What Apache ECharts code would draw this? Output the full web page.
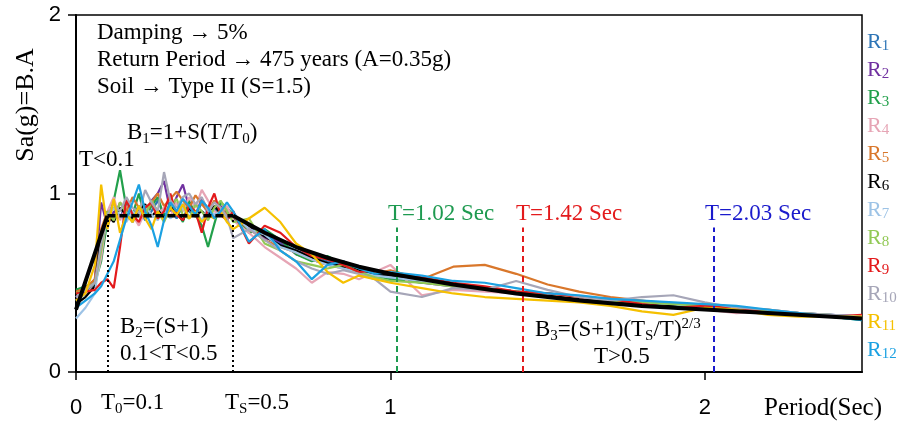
<!DOCTYPE html>
<html>
<head>
<meta charset="utf-8">
<script src="https://cdn.jsdelivr.net/npm/echarts@6/dist/echarts.min.js"></script>
<style>html,body{margin:0;background:#fff}#chart{width:898px;height:423px}</style>
</head>
<body>
<div id="chart"></div>
<script>
// periods (sec) shared by all records
const periods = [0,0.03,0.06,0.08,0.1,0.12,0.14,0.16,0.18,0.2,0.22,0.24,0.26,0.28,0.3,0.32,0.34,0.36,0.38,0.4,0.42,0.44,0.46,0.48,0.5,
  0.55,0.6,0.65,0.7,0.75,0.8,0.85,0.9,0.95,1.0,
  1.1,1.2,1.3,1.4,1.5,1.6,1.7,1.8,1.9,2.0,2.1,2.2,2.3,2.4,2.5];

const R1 = [0.40,0.44,0.50,0.70,0.88,0.92,0.86,0.95,0.88,0.93,0.85,0.90,0.96,0.88,0.92,0.86,0.94,0.90,0.87,0.95,0.89,0.92,0.88,0.90,0.86,
  0.80,0.76,0.72,0.68,0.65,0.62,0.60,0.58,0.56,0.55,
  0.52,0.49,0.46,0.44,0.43,0.42,0.40,0.39,0.38,0.37,0.36,0.34,0.33,0.32,0.31];
const R2 = [0.42,0.46,0.52,0.95,0.82,0.90,0.86,0.93,0.84,0.90,0.88,0.96,1.00,1.07,0.90,0.98,1.05,0.92,0.88,0.97,0.91,0.87,0.93,0.89,0.85,
  0.82,0.75,0.73,0.66,0.63,0.60,0.62,0.57,0.55,0.53,
  0.50,0.48,0.47,0.45,0.44,0.42,0.41,0.39,0.38,0.36,0.35,0.34,0.33,0.32,0.31];
const R3 = [0.46,0.48,0.50,0.62,0.85,0.96,1.13,0.92,0.88,1.00,0.86,0.93,0.98,0.87,0.95,0.90,0.84,0.96,0.88,0.82,0.70,0.83,0.95,0.92,0.88,
  0.78,0.80,0.74,0.66,0.62,0.65,0.60,0.57,0.54,0.52,
  0.50,0.49,0.47,0.45,0.43,0.41,0.40,0.39,0.38,0.37,0.36,0.34,0.33,0.31,0.29];
const R4 = [0.40,0.44,0.48,0.64,0.90,0.98,0.85,0.93,0.88,0.82,0.90,0.96,0.88,0.92,0.87,0.95,0.90,0.98,0.92,1.02,0.96,0.90,0.88,0.93,0.85,
  0.78,0.70,0.64,0.58,0.50,0.56,0.55,0.52,0.56,0.60,
  0.43,0.46,0.45,0.44,0.43,0.41,0.40,0.38,0.37,0.35,0.33,0.34,0.33,0.31,0.30];
const R5 = [0.45,0.47,0.52,0.80,0.90,0.86,0.95,0.90,0.98,0.92,0.88,0.95,1.00,0.93,0.97,1.01,0.96,0.92,0.99,0.94,0.90,0.96,0.92,0.88,0.87,
  0.80,0.74,0.70,0.67,0.63,0.60,0.58,0.56,0.55,0.57,
  0.52,0.59,0.60,0.55,0.49,0.45,0.42,0.40,0.38,0.37,0.36,0.35,0.33,0.31,0.31];
const R6 = [0.38,0.42,0.48,0.78,0.88,0.84,0.92,0.88,0.86,0.90,0.94,0.87,0.91,0.86,0.93,0.89,0.85,0.92,0.88,0.90,0.87,0.93,0.89,0.86,0.88,
  0.82,0.76,0.71,0.68,0.64,0.61,0.59,0.57,0.55,0.54,
  0.51,0.49,0.47,0.45,0.43,0.41,0.40,0.38,0.37,0.35,0.34,0.33,0.32,0.31,0.30];
const R7 = [0.30,0.36,0.44,0.70,0.86,0.92,0.88,0.84,0.90,0.87,0.93,0.88,0.85,0.91,0.86,0.89,0.92,0.87,0.90,0.85,0.92,0.88,0.90,0.86,0.89,
  0.80,0.77,0.70,0.67,0.63,0.60,0.58,0.56,0.54,0.53,
  0.51,0.48,0.47,0.45,0.44,0.42,0.41,0.39,0.38,0.36,0.35,0.34,0.33,0.32,0.31];
const R8 = [0.44,0.46,0.50,0.68,0.90,0.85,0.95,0.89,0.84,0.93,0.88,0.96,0.90,0.84,0.92,0.97,0.88,0.86,0.94,0.90,0.85,0.92,0.96,0.90,0.84,
  0.86,0.72,0.68,0.62,0.60,0.58,0.60,0.56,0.53,0.51,
  0.50,0.48,0.46,0.45,0.44,0.42,0.40,0.39,0.38,0.37,0.35,0.34,0.33,0.32,0.30];
const R9 = [0.44,0.45,0.46,0.50,0.52,0.47,0.70,0.97,0.88,0.84,0.92,0.95,0.86,0.90,1.00,0.88,0.85,0.93,0.90,0.78,0.92,1.00,0.88,0.85,0.90,
  0.72,0.82,0.78,0.70,0.65,0.63,0.60,0.56,0.57,0.55,
  0.53,0.50,0.48,0.45,0.44,0.42,0.41,0.38,0.36,0.37,0.36,0.33,0.32,0.31,0.32];
const R10 = [0.42,0.46,0.50,0.72,0.88,0.94,0.90,0.98,0.92,0.89,1.02,0.95,0.90,1.12,0.96,0.92,0.98,1.00,0.94,0.98,0.90,0.95,0.92,0.87,0.75,
  0.80,0.74,0.68,0.62,0.58,0.55,0.57,0.55,0.52,0.45,
  0.42,0.47,0.46,0.51,0.46,0.42,0.40,0.42,0.43,0.39,0.36,0.35,0.33,0.32,0.31];
const R11 = [0.40,0.44,0.60,1.05,0.80,0.97,0.78,0.88,0.84,0.93,0.86,0.80,0.90,0.85,0.92,0.88,0.94,0.86,0.90,0.84,0.88,0.86,0.90,0.84,0.80,
  0.86,0.92,0.84,0.72,0.66,0.56,0.50,0.54,0.52,0.50,
  0.47,0.44,0.42,0.41,0.40,0.39,0.37,0.34,0.32,0.36,0.35,0.32,0.31,0.31,0.31];
const R12 = [0.36,0.40,0.44,0.48,0.55,0.62,0.74,0.86,0.95,1.05,0.90,0.82,0.70,0.85,0.95,0.90,0.97,0.93,0.88,0.96,0.92,0.86,0.90,0.95,0.90,
  0.73,0.80,0.68,0.62,0.52,0.60,0.62,0.58,0.55,0.56,
  0.54,0.51,0.50,0.47,0.44,0.43,0.41,0.40,0.39,0.38,0.37,0.35,0.33,0.31,0.29];

const records = [R1,R2,R3,R4,R5,R6,R7,R8,R9,R10,R11,R12];
const recordNames = ['R1','R2','R3','R4','R5','R6','R7','R8','R9','R10','R11','R12'];
const recordColors = ['#2e75b6','#7030a0','#22a04b','#e6a5b5','#d9772b','#000000',
  '#9dc3e6','#92c956','#e31a1c','#a6a6b8','#f5c000','#1ba1e2'];

// design spectrum
const codeT  = [0,0.1,0.5,0.6,0.7,0.8,0.9,1.0,1.2,1.4,1.6,1.8,2.0,2.2,2.5];
const codeSa = [0.35,0.875,0.875,0.78,0.70,0.64,0.59,0.55,0.49,0.44,0.40,0.37,0.35,0.33,0.30];

// marked periods
const markT = [1.02, 1.42, 2.03];
const markColors = ['#1e9a50', '#e31a1c', '#1a1acc'];
const markTop = 0.81;
const cornerT = [0.1, 0.5];

const xTicks = [0, 1, 2];
const yTicks = [0, 1, 2];

const serif = 'Liberation Serif';
const chart = echarts.init(document.getElementById('chart'));

function rich(color) {
  return {
    s: {fontSize: 15, fontFamily: serif, fill: color, color: color, lineHeight: 11, verticalAlign: 'bottom'},
    p: {fontSize: 15, fontFamily: serif, fill: color, color: color, lineHeight: 12, verticalAlign: 'top'}
  };
}
function txt(x, y, text, color, extra) {
  color = color || '#000';
  return Object.assign({
    type: 'text', x: x, y: y, silent: true,
    style: {text: text, fill: color, fontSize: 23, fontFamily: serif,
      verticalAlign: 'middle', lineHeight: 27, rich: rich(color)}
  }, extra || {});
}

const series = records.map((vals, i) => ({
  name: recordNames[i],
  type: 'line',
  symbol: 'none',
  lineStyle: {width: 2.2, color: recordColors[i]},
  itemStyle: {color: recordColors[i]},
  data: periods.map((t, j) => [t, vals[j]])
}));

// solid parts of design spectrum (rise and descent), plateau dashed
const solidCode = [];
codeT.forEach((t, j) => {
  if (t <= 0.1) solidCode.push([t, codeSa[j]]);
});
solidCode.push(null);
codeT.forEach((t, j) => {
  if (t >= 0.5) solidCode.push([t, codeSa[j]]);
});
const plateau = codeT.map((t, j) => [t, codeSa[j]]).filter(p => p[0] >= 0.1 && p[0] <= 0.5);

series.push({
  name: 'code', type: 'line', symbol: 'none', z: 5,
  lineStyle: {width: 4, color: '#000'},
  data: solidCode,
  markLine: {
    silent: true, symbol: 'none', label: {show: false},
    data: markT.map((t, i) => [
      {coord: [t, 0], lineStyle: {color: markColors[i], width: 2, type: [6, 4]}},
      {coord: [t, markTop]}
    ]).concat(cornerT.map(t => [
      {coord: [t, 0], lineStyle: {color: '#000', width: 2, type: [2, 3]}},
      {coord: [t, 0.875]}
    ]))
  }
});
series.push({
  name: 'plateau', type: 'line', symbol: 'none', z: 5,
  lineStyle: {width: 3.5, color: '#000', type: [8, 4]},
  data: plateau
});

function legendRich(color) {
  return {
    m: {fontSize: 22, fontFamily: serif, color: color, lineHeight: 24},
    s: {fontSize: 15, fontFamily: serif, color: color, lineHeight: 10, verticalAlign: 'bottom'}
  };
}

chart.setOption({
  animation: false,
  grid: {left: 76, right: 36, top: 15, bottom: 51, show: true, borderColor: '#000', borderWidth: 1.5},
  xAxis: {
    type: 'value', min: 0, max: 2.5,
    axisLine: {lineStyle: {color: '#000', width: 2}},
    axisTick: {show: true, length: 8, lineStyle: {color: '#000', width: 1.5}, customValues: xTicks},
    axisLabel: {color: '#000', fontSize: 22, fontFamily: 'Liberation Sans', margin: 25, customValues: xTicks},
    splitLine: {show: false}
  },
  yAxis: {
    type: 'value', min: 0, max: 2, interval: 1,
    axisLine: {show: true, lineStyle: {color: '#000', width: 2}},
    axisTick: {show: true, length: 8, lineStyle: {color: '#000', width: 1.5}, customValues: yTicks},
    axisLabel: {color: '#000', fontSize: 22, fontFamily: 'Liberation Sans', margin: 15, customValues: yTicks},
    splitLine: {show: false}
  },
  legend: {
    orient: 'vertical', left: 862, top: 31, padding: 0, icon: 'none', itemWidth: 0, itemHeight: 14, itemGap: 5,
    selectedMode: false,
    data: recordNames.map((n, i) => ({name: n, textStyle: {color: recordColors[i], rich: legendRich(recordColors[i])}})),
    formatter: n => '{m|R}{s|' + n.slice(1) + '}'
  },
  graphic: [
    txt(97, 33, 'Damping \u2192 5%'),
    txt(97, 60, 'Return Period \u2192 475 years (A=0.35g)'),
    txt(97, 87, 'Soil \u2192 Type II (S=1.5)'),
    txt(127, 133, 'B{s|1}=1+S(T/T{s|0})'),
    txt(79, 160, 'T<0.1'),
    txt(120, 327, 'B{s|2}=(S+1)'),
    txt(120, 354, '0.1<T<0.5'),
    txt(535, 330, 'B{s|3}=(S+1)(T{s|S}/T){p|2/3}'),
    txt(594, 357, 'T>0.5'),
    txt(388, 214, 'T=1.02 Sec', markColors[0]),
    txt(516, 214, 'T=1.42 Sec', markColors[1]),
    txt(705, 214, 'T=2.03 Sec', markColors[2]),
    txt(101, 403, 'T{s|0}=0.1'),
    txt(225, 403, 'T{s|S}=0.5'),
    txt(764, 408, 'Period(Sec)', '#000', {style: {text: 'Period(Sec)', fill: '#000', fontSize: 25, fontFamily: serif, verticalAlign: 'middle'}}),
    {type: 'text', x: 26, y: 105, rotation: Math.PI / 2, silent: true,
      style: {text: 'Sa(g)=B.A', fill: '#000', fontSize: 26, fontFamily: serif, align: 'center', verticalAlign: 'middle'}}
  ],
  series: series
});
</script>
</body>
</html>
